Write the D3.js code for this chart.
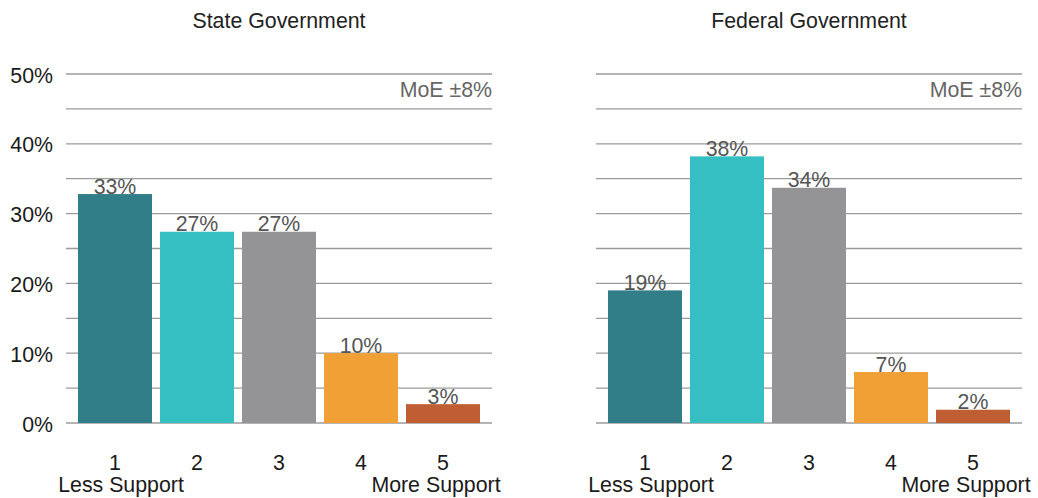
<!DOCTYPE html>
<html>
<head>
<meta charset="utf-8">
<script src="https://cdn.jsdelivr.net/npm/d3@7"></script>
<style>
  html, body { margin: 0; padding: 0; background: #fff; }
  svg { display: block; }
  text { font-family: "Liberation Sans", Arial, Helvetica, sans-serif; }
</style>
</head>
<body>
<svg id="chart" width="1038" height="498"></svg>
<script>
// ---- data ----
const categories = ["1", "2", "3", "4", "5"];
const stateValues = [32.8, 27.4, 27.4, 10.0, 2.7];
const stateLabels = ["33%", "27%", "27%", "10%", "3%"];
const federalValues = [19.0, 38.2, 33.7, 7.3, 1.9];
const federalLabels = ["19%", "38%", "34%", "7%", "2%"];
const yTicks = [0, 10, 20, 30, 40, 50];
const yGrid = [0, 5, 10, 15, 20, 25, 30, 35, 40, 45, 50];
const yTickLabels = ["0%", "10%", "20%", "30%", "40%", "50%"];
const barColors = ["#317e89", "#36bfc2", "#949496", "#f1a035", "#c05e33"];
const panels = [
  { title: "State Government", values: stateValues, labels: stateLabels, x0: 66, x1: 492, showY: true },
  { title: "Federal Government", values: federalValues, labels: federalLabels, x0: 596, x1: 1022, showY: false }
];

const svg = d3.select("#chart");
const FS = 21.33;
const y = d3.scaleLinear().domain([0, 50]).range([423, 74]);

panels.forEach(p => {
  const g = svg.append("g");
  const x = d3.scaleBand().domain(categories)
    .range([p.x0 + 8, p.x1 - 8])
    .paddingInner(8 / 82).paddingOuter(4 / 82);

  // gridlines
  g.selectAll("line.grid").data(yGrid).join("line")
    .attr("x1", p.x0).attr("x2", p.x1)
    .attr("y1", d => y(d)).attr("y2", d => y(d))
    .attr("stroke", "#9b9b9b").attr("stroke-width", 1.3);

  // y tick labels
  if (p.showY) {
    g.selectAll("text.ytick").data(yTicks).join("text")
      .attr("x", 53).attr("y", d => y(d) + 8.5)
      .attr("text-anchor", "end")
      .attr("font-size", FS).attr("fill", "#1a1a1a")
      .text((d, i) => yTickLabels[i]);
  }

  // bars
  g.selectAll("rect.bar").data(p.values).join("rect")
    .attr("x", (d, i) => x(categories[i]))
    .attr("width", x.bandwidth())
    .attr("y", d => y(d))
    .attr("height", d => y(0) - y(d))
    .attr("fill", (d, i) => barColors[i]);

  // value labels
  g.selectAll("text.val").data(p.values).join("text")
    .attr("x", (d, i) => x(categories[i]) + x.bandwidth() / 2)
    .attr("y", d => y(d) - 0.5)
    .attr("text-anchor", "middle")
    .attr("font-size", FS).attr("fill", "#555")
    .text((d, i) => p.labels[i]);

  // category labels
  g.selectAll("text.cat").data(categories).join("text")
    .attr("x", d => x(d) + x.bandwidth() / 2)
    .attr("y", 469.5)
    .attr("text-anchor", "middle")
    .attr("font-size", FS).attr("fill", "#1a1a1a")
    .text(d => d);

  const c1 = x(categories[0]) + x.bandwidth() / 2;
  const c5 = x(categories[4]) + x.bandwidth() / 2;
  g.append("text").attr("x", c1 + 6).attr("y", 491.5)
    .attr("text-anchor", "middle").attr("font-size", FS).attr("fill", "#1a1a1a")
    .text("Less Support");
  g.append("text").attr("x", c5 - 7).attr("y", 491.5)
    .attr("text-anchor", "middle").attr("font-size", FS).attr("fill", "#1a1a1a")
    .text("More Support");

  // title
  g.append("text").attr("x", (p.x0 + p.x1) / 2).attr("y", 28)
    .attr("text-anchor", "middle").attr("font-size", FS).attr("fill", "#222")
    .text(p.title);

  // MoE
  g.append("text").attr("x", p.x1).attr("y", 96.5)
    .attr("text-anchor", "end").attr("font-size", FS).attr("fill", "#666")
    .text("MoE ±8%");
});
</script>
</body>
</html>
